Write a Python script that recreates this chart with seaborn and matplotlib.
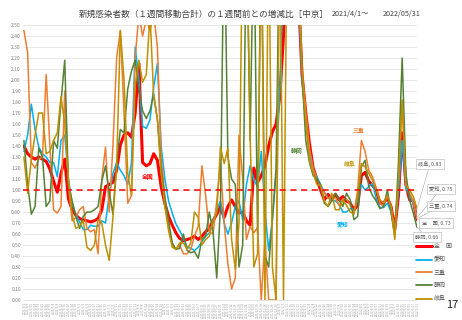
import numpy as np
import pandas as pd
import matplotlib
matplotlib.use("Agg")
import matplotlib.pyplot as plt
from matplotlib.lines import Line2D
import seaborn as sns

# ---------------- data ----------------
start_date = "2021-04-01"
end_date = "2022-05-31"
step_days = 4
n_points = 107

regions = ["全　国", "愛知", "三重", "静岡", "岐阜"]
colors = ["#FF0000", "#00B0F0", "#ED7D31", "#548235", "#BF9000"]

zenkoku = [1.40, 1.33, 1.30, 1.28, 1.30, 1.28, 1.26, 1.19, 1.08, 0.98,
           1.15, 1.28, 0.92, 0.82, 0.77, 0.74, 0.73, 0.72, 0.71, 0.72,
           0.74, 0.82, 1.03, 1.05, 1.07, 1.18, 1.41, 1.50, 1.52, 1.48,
           1.70, 2.15, 1.25, 1.22, 1.24, 1.33, 1.27, 1.03, 0.88, 0.76,
           0.68, 0.61, 0.56, 0.54, 0.55, 0.56, 0.58, 0.55, 0.58, 0.62,
           0.65, 0.72, 0.78, 0.85, 0.75, 0.85, 0.91, 0.85, 0.79, 0.80,
           0.72, 0.68, 1.20, 1.07, 1.13, 1.22, 1.40, 1.53, 1.60, 1.85,
           2.40, 3.50, 3.50, 3.50, 2.80, 2.05, 1.70, 1.42, 1.20, 1.10,
           1.00, 0.91, 0.96, 0.91, 0.96, 0.91, 0.94, 0.90, 0.88, 0.82,
           0.86, 1.13, 1.16, 1.08, 1.04, 1.00, 0.88, 0.88, 0.93, 0.85,
           0.64, 0.95, 1.52, 1.05, 0.91, 0.90, 0.73]

aichi = [1.35, 1.50, 1.78, 1.55, 1.39, 1.33, 1.30, 1.25, 1.25, 1.12,
         1.45, 1.50, 1.10, 0.88, 0.78, 0.71, 0.64, 0.64, 0.68, 0.67,
         0.67, 0.72, 0.70, 0.95, 1.15, 1.25, 1.18, 1.13, 1.05, 1.25,
         2.30, 2.00, 1.58, 1.56, 1.64, 1.94, 2.15, 1.40, 1.10, 0.90,
         0.79, 0.69, 0.63, 0.56, 0.48, 0.47, 0.45, 0.48, 0.53, 0.58,
         0.61, 0.72, 0.82, 0.90, 0.70, 0.60, 0.70, 0.85, 0.90, 0.73,
         1.05, 1.22, 1.09, 1.03, 1.35, 0.82, 0.45, 0.73, 1.15, 1.90,
         3.00, 3.50, 3.50, 3.50, 2.80, 2.00, 1.65, 1.35, 1.17, 1.12,
         1.05, 0.98, 0.93, 0.91, 0.90, 0.87, 0.80, 0.80, 0.83, 0.82,
         0.90, 1.05, 1.00, 1.03, 1.06, 0.92, 0.84, 0.84, 0.88, 0.80,
         0.64, 0.98, 1.45, 1.02, 0.95, 0.88, 0.75]

mie = [2.45, 2.25, 1.25, 1.20, 1.28, 1.30, 2.05, 1.40, 0.82, 0.79,
       0.85, 1.90, 1.05, 0.72, 0.75, 0.82, 0.85, 0.65, 0.62, 0.64,
       0.42, 1.10, 1.39, 0.80, 1.40, 2.20, 2.45, 1.70, 0.88, 0.95,
       2.20, 2.60, 2.40, 2.55, 2.45, 2.60, 2.30, 1.30, 0.95, 0.68,
       0.50, 0.46, 0.50, 0.42, 0.42, 0.46, 0.58, 0.67, 1.22, 0.95,
       0.62, 0.60, 0.90, 1.24, 0.70, 0.33, 0.10, 0.20, 1.50, 1.10,
       0.55, 0.67, 0.61, 0.66, 0.00, 0.55, 0.00, 0.00, 0.00, 3.50,
       3.50, 3.50, 3.50, 3.50, 2.90, 2.10, 1.72, 1.38, 1.20, 1.10,
       1.03, 0.98, 0.92, 0.95, 0.93, 0.86, 0.92, 0.92, 0.86, 0.79,
       1.00, 1.45, 1.35, 1.18, 1.12, 1.02, 0.88, 0.85, 0.95, 0.85,
       0.64, 1.10, 1.80, 1.05, 0.97, 0.90, 0.74]

shizuoka = [1.45, 1.05, 0.78, 0.85, 1.38, 1.30, 0.85, 0.90, 1.45, 1.38,
            1.80, 2.18, 1.05, 0.90, 0.76, 0.65, 0.76, 0.80, 0.80, 0.82,
            0.85, 1.08, 1.22, 0.98, 0.78, 1.25, 1.55, 1.52, 1.92, 2.08,
            2.18, 1.92, 1.72, 1.65, 1.72, 1.87, 1.64, 1.20, 0.92, 0.72,
            0.52, 0.46, 0.47, 0.60, 0.45, 0.43, 0.44, 0.38, 0.55, 0.58,
            0.80, 0.62, 0.20, 0.85, 3.50, 1.30, 1.10, 1.05, 0.30, 0.50,
            3.50, 1.45, 3.50, 0.60, 3.50, 0.40, 0.30, 0.73, 1.20, 3.50,
            3.50, 3.50, 3.50, 3.50, 3.00, 2.05, 1.45, 1.25, 1.13, 1.10,
            1.05, 0.88, 0.85, 0.90, 0.97, 0.91, 0.85, 0.97, 0.91, 0.73,
            0.76, 1.21, 1.27, 1.03, 0.95, 0.90, 0.83, 0.85, 1.00, 0.80,
            0.58, 1.25, 2.20, 1.15, 0.91, 0.79, 0.66]

gifu = [1.30, 0.97, 1.28, 1.50, 1.70, 1.70, 1.33, 1.35, 1.45, 1.52,
        1.85, 1.60, 1.10, 0.78, 0.65, 0.67, 0.72, 0.48, 0.45, 0.50,
        0.73, 0.70, 0.50, 0.36, 0.75, 1.20, 2.45, 2.00, 1.15, 0.95,
        1.95, 2.18, 1.98, 2.05, 2.60, 1.85, 1.64, 1.15, 0.85, 0.63,
        0.48, 0.46, 0.52, 0.52, 0.46, 0.52, 0.80, 0.75, 0.50, 0.55,
        0.58, 0.72, 0.79, 1.39, 1.24, 1.38, 0.55, 0.28, 0.70, 3.50,
        3.50, 1.48, 0.30, 0.42, 3.50, 0.00, 3.50, 0.30, 0.00, 3.50,
        0.00, 3.50, 3.50, 3.50, 2.90, 2.10, 1.62, 1.27, 1.15, 1.05,
        1.04, 0.90, 0.85, 0.97, 0.82, 0.82, 0.91, 0.86, 0.80, 0.78,
        0.95, 1.24, 1.21, 1.15, 1.09, 1.00, 0.91, 0.88, 0.95, 0.85,
        0.55, 1.10, 1.82, 1.05, 1.00, 0.94, 0.83]

last_labels = ["全　国, 0.73", "愛知, 0.75", "三重, 0.74", "静岡, 0.66", "岐阜, 0.83"]

y_ticks = [round(0.1 * i, 2) for i in range(26)]

title_text = "新規感染者数（１週間移動合計）の１週間前との増減比［中京］"
period_from = "2021/4/1～"
period_to = "2022/05/31"
page_no = "17"

# ---------------- frame ----------------
dates = pd.Timestamp(start_date) + pd.to_timedelta(1 + step_days * np.arange(n_points), unit="D")
series = [zenkoku, aichi, mie, shizuoka, gifu]
df = pd.concat([pd.DataFrame({"date": dates, "value": v, "region": r})
                for r, v in zip(regions, series)], ignore_index=True)
tick_labels = [f"{d.year}/{d.month}/{d.day}" for d in dates]

# ---------------- plot ----------------
sns.set_style("white")
plt.rcParams["font.family"] = ["Noto Sans CJK JP", "DejaVu Sans"]

W, H = 462, 320
fig = plt.figure(figsize=(W / 100, H / 100), dpi=100)
ax = fig.add_axes([23 / W, 1 - 300 / H, (417 - 23) / W, 275 / H])

for y in y_ticks:
    ax.axhline(y, color="#dedede", lw=0.5, zorder=0)

widths = [2.2, 1.1, 1.1, 1.1, 1.1]
for r, c, lw in zip(regions, colors, widths):
    sns.lineplot(data=df[df.region == r], x="date", y="value", color=c,
                 lw=lw, ax=ax, legend=False, estimator=None)

ax.axhline(1.0, color="#FF0000", lw=1.1, ls=(0, (4, 3)), zorder=5)

ax.set_ylim(0, 2.5)
ax.set_xlim(pd.Timestamp(start_date), pd.Timestamp(end_date))
ax.set_yticks(y_ticks)
ax.set_yticklabels([f"{v:.2f}" for v in y_ticks], fontsize=3.6, color="#808080")
ax.set_xticks(dates)
ax.set_xticklabels(tick_labels, fontsize=2.2, rotation=90, color="#a0a0a0")
ax.tick_params(length=0, pad=1.5)
ax.set_xlabel("")
ax.set_ylabel("")
for s in ax.spines.values():
    s.set_visible(False)
ax.spines["bottom"].set_visible(True)
ax.spines["bottom"].set_color("#d9d9d9")
ax.spines["bottom"].set_linewidth(0.5)

# in-plot labels (data coords)
def dpos(px, py):
    d = pd.Timestamp(start_date) + pd.Timedelta(days=(px - 23) / 0.927)
    return d, (300 - py) / 110

inline = [("全国", 148, 177, colors[0]), ("静岡", 297, 151, colors[3]),
          ("三重", 358, 131, colors[2]), ("岐阜", 349, 164, colors[4]),
          ("愛知", 343, 225, colors[1])]
for t, px, py, c in inline:
    xx, yy = dpos(px, py)
    ax.text(xx, yy, t, color=c, fontsize=4.2, fontweight="bold", ha="center", va="center")

# end-point callouts
box_pos = {"岐阜, 0.83": (430, 164), "愛知, 0.75": (441, 189), "三重, 0.74": (441, 206),
           "全　国, 0.73": (436, 223), "静岡, 0.66": (427, 237)}
end_vals = {"全　国, 0.73": zenkoku[-1], "愛知, 0.75": aichi[-1], "三重, 0.74": mie[-1],
            "静岡, 0.66": shizuoka[-1], "岐阜, 0.83": gifu[-1]}
for lab in last_labels:
    bx, by = box_pos[lab]
    ax.annotate(lab, xy=(dates[-1], end_vals[lab]), xytext=(bx, H - by),
                textcoords="figure pixels", fontsize=3.8, color="#595959",
                ha="center", va="center", annotation_clip=False,
                bbox=dict(boxstyle="square,pad=0.45", fc="white", ec="#bfbfbf", lw=0.5),
                arrowprops=dict(arrowstyle="-", color="#a6a6a6", lw=0.4,
                                shrinkA=0, shrinkB=0))

# legend
handles = [Line2D([0], [0], color=c, lw=(2.2 if i == 0 else 1.3)) for i, c in enumerate(colors)]
fig.legend(handles, regions, loc="upper left", bbox_to_anchor=(416 / W, 1 - 244 / H),
           frameon=False, fontsize=4.3, labelcolor="#595959", handlelength=2.6,
           handletextpad=0.4, labelspacing=1.25, borderpad=0, borderaxespad=0)

# titles
fig.text(204 / W, 1 - 14 / H, title_text, fontsize=6.2, color="#404040", ha="center", va="center")
fig.text(332 / W, 1 - 14 / H, period_from, fontsize=5.2, color="#404040", ha="left", va="center")
fig.text(383 / W, 1 - 14 / H, period_to, fontsize=5.2, color="#404040", ha="left", va="center")
fig.text(452 / W, 1 - 305 / H, page_no, fontsize=8, color="#202020", ha="center", va="center")

fig.savefig("out.png", dpi=100)
